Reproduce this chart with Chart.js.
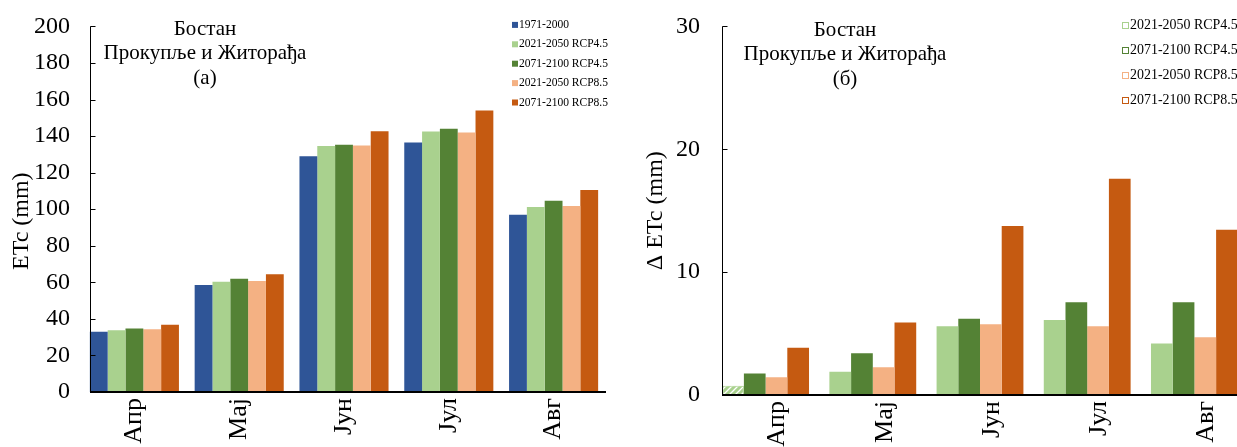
<!DOCTYPE html>
<html lang="sr">

<head>
    <meta charset="UTF-8">
    <title>Бостан - ETc</title>
    <script src="https://cdn.jsdelivr.net/npm/chart.js@4.4.0/dist/chart.umd.min.js"></script>
    <style>
        body {
            margin: 0;
            width: 1237px;
            height: 447px;
            overflow: hidden;
            background: #fff;
            position: relative;
        }

        .panel {
            position: absolute;
            top: 0;
            height: 480px;
        }

        #leftPanel {
            left: 0;
            width: 620px;
        }

        #rightPanel {
            left: 620px;
            width: 640px;
        }
    </style>
</head>

<body>
    <div class="panel" id="leftPanel"><canvas id="etc"></canvas></div>
    <div class="panel" id="rightPanel"><canvas id="deltaEtc"></canvas></div>
    <script>
        // месеци
        const months = ['Апр', 'Мај', 'Јун', 'Јул', 'Авг'];

        // ETc (mm) - лево
        const etc1971_2000 = [33, 58.5, 129, 136.5, 97];
        const etc2021_2050_rcp45 = [33.8, 60.3, 134.6, 142.5, 101.2];
        const etc2071_2100_rcp45 = [34.7, 61.9, 135.2, 144, 104.6];
        const etc2021_2050_rcp85 = [34.3, 60.7, 134.8, 142, 101.7];
        const etc2071_2100_rcp85 = [36.8, 64.4, 142.7, 154, 110.5];

        // Δ ETc (mm) - десно
        const d2021_2050_rcp45 = [0.75, 1.9, 5.6, 6.1, 4.2];
        const d2071_2100_rcp45 = [1.75, 3.4, 6.2, 7.55, 7.55];
        const d2021_2050_rcp85 = [1.45, 2.25, 5.75, 5.6, 4.7];
        const d2071_2100_rcp85 = [3.85, 5.9, 13.75, 17.6, 13.45];

        const etcTicks = [0, 20, 40, 60, 80, 100, 120, 140, 160, 180, 200];
        const deltaTicks = [0, 10, 20, 30];

        const blue = '#2f5597';
        const lightGreen = '#a9d18e';
        const green = '#548235';
        const peach = '#f4b183';
        const orange = '#c55a11';

        Chart.defaults.font.family = '"Liberation Serif", "Times New Roman", serif';
        Chart.defaults.color = '#000';

        // шрафура за Апр (2021-2050 RCP4.5)
        function hatch(color) {
            const c = document.createElement('canvas');
            c.width = 6;
            c.height = 6;
            const g = c.getContext('2d');
            g.fillStyle = color;
            g.fillRect(0, 0, 6, 6);
            g.strokeStyle = '#fff';
            g.lineWidth = 1.3;
            g.beginPath();
            g.moveTo(0, 6); g.lineTo(6, 0);
            g.moveTo(-1, 1); g.lineTo(1, -1);
            g.moveTo(5, 7); g.lineTo(7, 5);
            g.stroke();
            return g.createPattern(c, 'repeat');
        }

        // оса Y и оса X почињу од прве колоне
        const axisLines = {
            id: 'axisLines',
            afterDatasetsDraw(chart) {
                const ctx = chart.ctx;
                const area = chart.chartArea;
                const y = chart.scales.y;
                const first = chart.getDatasetMeta(0).data[0];
                const x0 = Math.round(first.x - first.width / 2) + 0.5;
                ctx.save();
                ctx.strokeStyle = '#000';
                ctx.lineWidth = 1;
                ctx.beginPath();
                ctx.moveTo(x0, area.top);
                ctx.lineTo(x0, area.bottom);
                y.ticks.forEach(t => {
                    const py = Math.round(y.getPixelForValue(t.value)) + 0.5;
                    ctx.moveTo(x0, py);
                    ctx.lineTo(x0 + 5, py);
                });
                ctx.stroke();
                ctx.lineWidth = 2;
                ctx.beginPath();
                ctx.moveTo(x0 - 0.5, area.bottom);
                ctx.lineTo(area.right, area.bottom);
                ctx.stroke();
                ctx.restore();
            }
        };

        // наслов у пољу графика
        const innerTitle = {
            id: 'innerTitle',
            afterDraw(chart, args, opts) {
                const ctx = chart.ctx;
                const area = chart.chartArea;
                ctx.save();
                ctx.font = '21px "Liberation Serif"';
                ctx.fillStyle = '#000';
                ctx.textAlign = 'center';
                ctx.textBaseline = 'middle';
                opts.lines.forEach((line, i) => {
                    ctx.fillText(line, area.left + opts.dx, area.top + opts.dy + i * 24.5);
                });
                ctx.restore();
            }
        };

        // легенда у пољу графика
        const innerLegend = {
            id: 'innerLegend',
            afterDraw(chart, args, opts) {
                const ctx = chart.ctx;
                const area = chart.chartArea;
                ctx.save();
                ctx.font = opts.size + 'px "Liberation Serif"';
                ctx.textBaseline = 'middle';
                ctx.textAlign = 'left';
                chart.data.datasets.forEach((ds, i) => {
                    const x = area.left + opts.dx;
                    const y = area.top + opts.dy + i * opts.step;
                    const b = opts.box;
                    if (opts.hollow) {
                        ctx.fillStyle = '#fff';
                        ctx.fillRect(x, y - b / 2, b, b);
                        ctx.strokeStyle = ds.legendColor;
                        ctx.lineWidth = 1;
                        ctx.strokeRect(x + 0.5, Math.round(y - b / 2) + 0.5, b - 1, b - 1);
                    } else {
                        ctx.fillStyle = ds.legendColor;
                        ctx.fillRect(x, y - b / 2, b, b);
                    }
                    ctx.fillStyle = '#000';
                    ctx.save();
                    ctx.translate(x + b + 1, y);
                    ctx.scale(opts.squeeze, 1);
                    ctx.fillText(ds.label, 0, 0);
                    ctx.restore();
                });
                ctx.restore();
            }
        };

        new Chart(document.getElementById('etc'), {
            type: 'bar',
            data: {
                labels: months,
                datasets: [
                    { label: '1971-2000', data: etc1971_2000, backgroundColor: blue, legendColor: blue },
                    { label: '2021-2050 RCP4.5', data: etc2021_2050_rcp45, backgroundColor: lightGreen, legendColor: lightGreen },
                    { label: '2071-2100 RCP4.5', data: etc2071_2100_rcp45, backgroundColor: green, legendColor: green },
                    { label: '2021-2050 RCP8.5', data: etc2021_2050_rcp85, backgroundColor: peach, legendColor: peach },
                    { label: '2071-2100 RCP8.5', data: etc2071_2100_rcp85, backgroundColor: orange, legendColor: orange }
                ]
            },
            options: {
                responsive: true,
                maintainAspectRatio: false,
                animation: false,
                layout: { padding: { top: 23, right: 14, left: 0, bottom: 0 } },
                datasets: { bar: { categoryPercentage: 0.85, barPercentage: 1.0 } },
                plugins: {
                    legend: { display: false },
                    tooltip: { enabled: false },
                    innerTitle: { lines: ['Бостан', 'Прокупље и Житорађа', '(а)'], dx: 123, dy: 3 },
                    innerLegend: { dx: 430, dy: -1.5, step: 19.4, box: 6, size: 12, squeeze: 0.96, hollow: false }
                },
                scales: {
                    x: {
                        grid: { display: false, drawTicks: false },
                        border: { display: false },
                        ticks: { font: { size: 26 }, minRotation: 90, maxRotation: 90, padding: 6, autoSkip: false },
                        afterFit: s => { s.height = 88; }
                    },
                    y: {
                        min: 0,
                        max: 200,
                        afterBuildTicks: s => { s.ticks = etcTicks.map(v => ({ value: v })); },
                        grid: { display: false, drawTicks: false },
                        border: { display: false },
                        ticks: { font: { size: 24 }, padding: 12 },
                        title: { display: true, text: 'ETc (mm)\u00a0\u00a0\u00a0\u00a0', font: { size: 24 }, padding: { top: 7, bottom: 0 } },
                        afterFit: s => { s.width = 82; }
                    }
                }
            },
            plugins: [axisLines, innerTitle, innerLegend]
        });

        new Chart(document.getElementById('deltaEtc'), {
            type: 'bar',
            data: {
                labels: months,
                datasets: [
                    {
                        label: '2021-2050 RCP4.5', data: d2021_2050_rcp45, legendColor: lightGreen,
                        backgroundColor: [hatch(lightGreen), lightGreen, lightGreen, lightGreen, lightGreen],
                        borderColor: lightGreen, borderWidth: [1, 0, 0, 0, 0]
                    },
                    { label: '2071-2100 RCP4.5', data: d2071_2100_rcp45, backgroundColor: green, legendColor: green },
                    { label: '2021-2050 RCP8.5', data: d2021_2050_rcp85, backgroundColor: peach, legendColor: peach },
                    { label: '2071-2100 RCP8.5', data: d2071_2100_rcp85, backgroundColor: orange, legendColor: orange }
                ]
            },
            options: {
                responsive: true,
                maintainAspectRatio: false,
                animation: false,
                layout: { padding: { top: 21, right: 12, left: 0, bottom: 0 } },
                datasets: { bar: { categoryPercentage: 0.81, barPercentage: 1.0 } },
                plugins: {
                    legend: { display: false },
                    tooltip: { enabled: false },
                    innerTitle: { lines: ['Бостан', 'Прокупље и Житорађа', '(б)'], dx: 133, dy: 4 },
                    innerLegend: { dx: 410, dy: -1, step: 25, box: 7, size: 15, squeeze: 0.93, hollow: true }
                },
                scales: {
                    x: {
                        grid: { display: false, drawTicks: false },
                        border: { display: false },
                        ticks: { font: { size: 26 }, minRotation: 90, maxRotation: 90, padding: 6, labelOffset: 12, autoSkip: false },
                        afterFit: s => { s.height = 85; }
                    },
                    y: {
                        min: 0,
                        max: 30,
                        afterBuildTicks: s => { s.ticks = deltaTicks.map(v => ({ value: v })); },
                        grid: { display: false, drawTicks: false },
                        border: { display: false },
                        ticks: { font: { size: 24 }, padding: 12 },
                        title: { display: true, text: 'Δ ETc (mm)', font: { size: 24 }, padding: { top: 21, bottom: 0 } },
                        afterFit: s => { s.width = 92; }
                    }
                }
            },
            plugins: [axisLines, innerTitle, innerLegend]
        });
    </script>
</body>

</html>
